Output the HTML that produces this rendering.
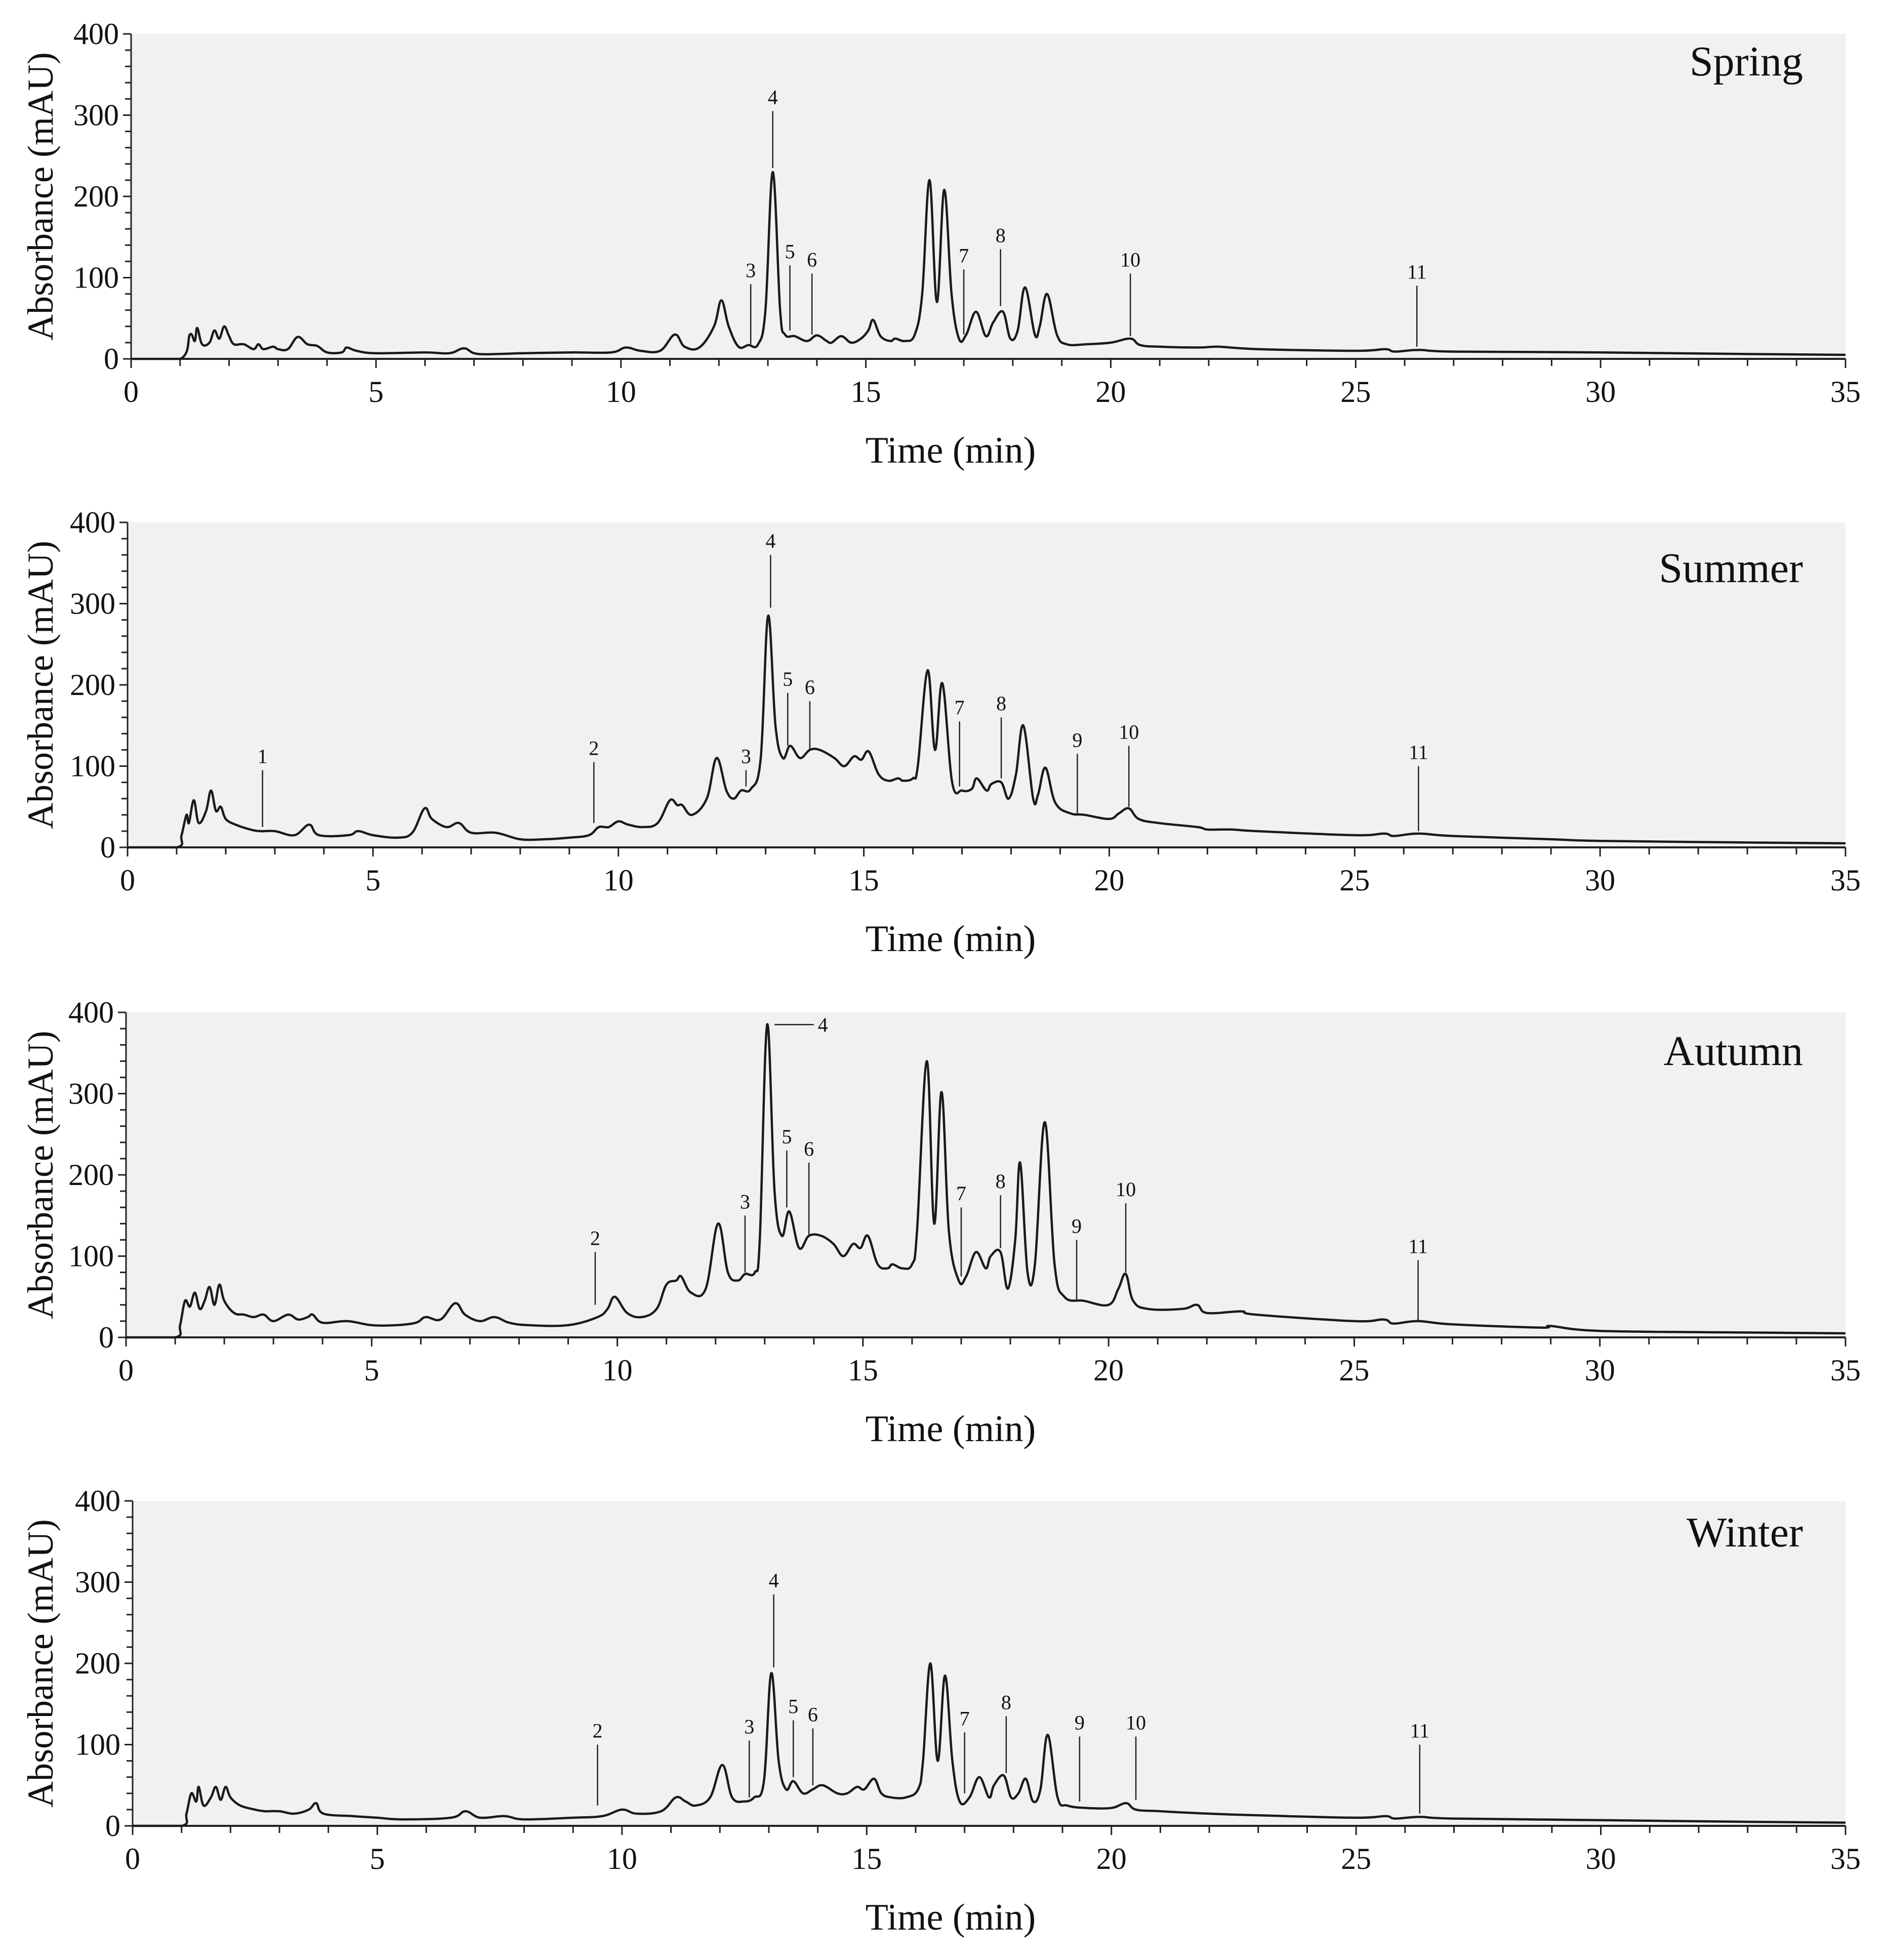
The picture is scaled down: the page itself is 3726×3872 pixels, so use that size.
<!DOCTYPE html>
<html><head><meta charset="utf-8"><style>
html,body{margin:0;padding:0;background:#fff}
svg{display:block}
text{font-family:"Liberation Serif",serif;fill:#111}
</style></head><body>
<svg id="chart" width="3726" height="3872" viewBox="0 0 3726 3872" xmlns="http://www.w3.org/2000/svg"></svg>
<script>
const seasons = ["Spring","Summer","Autumn","Winter"];
const xTicks = [0,5,10,15,20,25,30,35];
const yTicks = [0,100,200,300,400];
const springData = [[0,0],[1.0,0],[1.2,30],[1.3,22],[1.35,38],[1.45,18],[1.6,20],[1.7,35],[1.8,25],[1.9,40],[2.0,28],[2.1,18],[2.3,18],[2.5,12],[2.6,18],[2.7,12],[2.9,15],[3.0,12],[3.2,12],[3.4,27],[3.6,18],[3.8,16],[4.0,8],[4.3,8],[4.4,14],[4.6,10],[5,7],[6,8],[6.5,7],[6.8,13],[7.1,6],[8,7],[9,8],[9.8,8],[10.1,14],[10.4,10],[10.8,10],[11.1,30],[11.3,15],[11.6,14],[11.9,40],[12.05,72],[12.2,40],[12.4,15],[12.6,17],[12.8,18],[12.95,60],[13.1,230],[13.25,60],[13.35,30],[13.55,28],[13.8,22],[14.0,29],[14.2,22],[14.3,20],[14.5,28],[14.7,20],[14.9,25],[15.05,35],[15.15,48],[15.3,28],[15.5,22],[15.6,25],[15.8,22],[16.0,30],[16.15,80],[16.3,220],[16.45,70],[16.6,208],[16.75,80],[16.9,25],[17.05,30],[17.25,58],[17.45,28],[17.6,45],[17.8,58],[17.95,25],[18.1,35],[18.25,88],[18.45,30],[18.55,40],[18.7,80],[18.9,30],[19.1,18],[19.5,18],[20.0,20],[20.4,25],[20.6,17],[21,15],[21.8,14],[22.2,15],[23,12],[25,10],[25.6,12],[25.8,9],[26.3,11],[27,9],[30,8],[33,6],[35,5]];
const summerData = [[0,0],[1.0,0],[1.1,15],[1.2,40],[1.25,30],[1.35,58],[1.45,30],[1.6,45],[1.7,70],[1.8,45],[1.9,50],[2.0,35],[2.2,28],[2.5,22],[2.7,20],[3.0,20],[3.4,15],[3.7,28],[3.9,15],[4.5,15],[4.7,20],[5.0,15],[5.5,12],[5.8,18],[6.05,48],[6.2,35],[6.5,25],[6.75,30],[7.0,18],[7.5,18],[8.0,10],[8.5,10],[9.0,12],[9.4,15],[9.6,25],[9.8,25],[10.0,32],[10.2,28],[10.5,25],[10.8,30],[11.05,58],[11.2,52],[11.3,52],[11.5,40],[11.8,60],[12.0,110],[12.2,70],[12.35,60],[12.5,70],[12.7,72],[12.9,110],[13.05,285],[13.2,150],[13.35,110],[13.5,125],[13.7,110],[13.9,120],[14.1,120],[14.4,110],[14.6,100],[14.8,112],[14.95,108],[15.1,118],[15.3,90],[15.5,82],[15.7,85],[15.8,82],[16.0,85],[16.1,100],[16.3,218],[16.45,120],[16.6,202],[16.8,80],[17.0,70],[17.2,72],[17.3,85],[17.5,70],[17.6,78],[17.8,80],[17.95,60],[18.1,90],[18.25,150],[18.45,60],[18.55,65],[18.7,98],[18.9,55],[19.2,42],[19.5,40],[20.0,35],[20.2,42],[20.4,48],[20.6,35],[21,30],[21.8,25],[22,22],[22.5,22],[23,20],[25,15],[25.6,17],[25.8,14],[26.3,17],[27,14],[29,10],[30,8],[33,6],[35,5]];
const autumnData = [[0,0],[1.0,0],[1.1,15],[1.2,45],[1.3,38],[1.4,55],[1.5,35],[1.6,45],[1.7,62],[1.8,40],[1.9,65],[2.0,45],[2.2,30],[2.4,28],[2.6,25],[2.8,28],[3.0,20],[3.3,28],[3.5,22],[3.7,25],[3.8,28],[4.0,18],[4.5,20],[5,15],[5.5,15],[5.9,18],[6.1,25],[6.4,22],[6.7,42],[6.9,28],[7.2,20],[7.5,25],[7.8,18],[8.2,15],[9,15],[9.6,25],[9.8,35],[9.95,50],[10.2,30],[10.5,25],[10.8,35],[11.0,65],[11.2,70],[11.3,75],[11.5,55],[11.8,60],[12.05,140],[12.25,80],[12.45,70],[12.6,78],[12.8,80],[12.9,120],[13.05,385],[13.2,180],[13.35,125],[13.5,155],[13.7,110],[13.9,125],[14.15,125],[14.4,115],[14.6,100],[14.8,115],[14.95,110],[15.1,125],[15.3,90],[15.5,85],[15.6,90],[15.8,85],[16.0,90],[16.1,130],[16.3,340],[16.45,140],[16.6,302],[16.75,130],[16.95,70],[17.1,75],[17.3,105],[17.5,85],[17.6,100],[17.8,105],[17.95,60],[18.1,120],[18.2,215],[18.35,80],[18.5,90],[18.7,265],[18.9,90],[19.1,50],[19.5,45],[20.0,40],[20.2,60],[20.35,78],[20.5,45],[20.8,35],[21.5,35],[21.8,40],[22,30],[22.7,32],[23,28],[25,20],[25.6,22],[25.8,17],[26.3,20],[27,16],[28.8,12],[29,14],[30,8],[33,6],[35,5]];
const winterData = [[0,0],[1.0,0],[1.1,15],[1.2,40],[1.3,30],[1.35,48],[1.45,25],[1.6,35],[1.7,48],[1.8,32],[1.9,48],[2.0,35],[2.2,25],[2.5,20],[2.7,18],[3.0,18],[3.3,15],[3.6,20],[3.75,28],[3.9,15],[4.5,12],[5,10],[5.5,8],[6.5,10],[6.8,18],[7.1,10],[7.6,12],[8,8],[9,10],[9.6,12],[10.0,20],[10.3,15],[10.8,18],[11.1,35],[11.3,30],[11.5,25],[11.8,35],[12.05,75],[12.25,35],[12.5,30],[12.7,35],[12.9,55],[13.05,188],[13.2,80],[13.35,45],[13.5,55],[13.7,40],[13.9,45],[14.1,50],[14.4,40],[14.6,40],[14.8,48],[14.95,45],[15.15,58],[15.3,40],[15.5,35],[15.8,35],[16.05,45],[16.15,80],[16.3,200],[16.45,80],[16.6,185],[16.75,80],[16.9,30],[17.1,35],[17.3,60],[17.5,35],[17.6,50],[17.8,62],[17.95,35],[18.1,40],[18.25,58],[18.4,30],[18.55,45],[18.7,112],[18.9,35],[19.1,25],[19.5,22],[20.0,22],[20.3,28],[20.5,20],[21,18],[22,15],[23,13],[25,10],[25.6,12],[25.8,9],[26.3,11],[27,9],[30,7],[33,5],[35,4]];
// peak labels: [label, time, lineTop(mAU), lineBottom(mAU)]
const springPeaks = [["3",12.65,92,18],["4",13.1,305,235],["5",13.45,115,35],["6",13.9,105,30],["7",17.0,110,30],["8",17.75,135,65],["10",20.4,105,28],["11",26.25,90,15]];
const summerPeaks = [["1",2.75,95,25],["2",9.5,105,30],["3",12.6,95,75],["4",13.1,360,295],["5",13.45,190,125],["6",13.9,180,120],["7",16.95,155,75],["8",17.8,160,85],["9",19.35,115,42],["10",20.4,125,50],["11",26.3,100,20]];
const autumnPeaks = [["2",9.55,105,40],["3",12.6,150,80],["5",13.45,230,160],["6",13.9,215,125],["7",17.0,160,75],["8",17.8,175,110],["9",19.35,120,45],["10",20.35,165,80],["11",26.3,95,20]];
const winterPeaks = [["2",9.5,100,25],["3",12.6,105,35],["4",13.1,285,195],["5",13.5,130,60],["6",13.9,120,50],["7",17.0,115,40],["8",17.85,135,65],["9",19.35,110,30],["10",20.5,110,32],["11",26.3,100,15]];

const allData=[springData,summerData,autumnData,winterData];
const allPeaks=[springPeaks,summerPeaks,autumnPeaks,winterPeaks];
const x0s=[259,252,249,262], tops=[67,1032,2000,2965], x35=3646, ph=642, titleDy=[82,118,104,90];
const NS="http://www.w3.org/2000/svg";
const svg=document.getElementById('chart');
function mk(tag,attrs,parent){const e=document.createElementNS(NS,tag);for(const k in attrs)e.setAttribute(k,attrs[k]);(parent||svg).appendChild(e);return e;}
function smoothPath(pts,base){
  let d='M'+pts[0][0].toFixed(1)+','+pts[0][1].toFixed(1);
  for(let i=0;i<pts.length-1;i++){
    const p0=pts[Math.max(0,i-1)],p1=pts[i],p2=pts[i+1],p3=pts[Math.min(pts.length-1,i+2)];
    const k=0.18;
    const c1x=p1[0]+(p2[0]-p0[0])*k,c1y=Math.min(base,p1[1]+(p2[1]-p0[1])*k);
    const c2x=p2[0]-(p3[0]-p1[0])*k,c2y=Math.min(base,p2[1]-(p3[1]-p1[1])*k);
    d+=' C'+c1x.toFixed(1)+','+c1y.toFixed(1)+' '+c2x.toFixed(1)+','+c2y.toFixed(1)+' '+p2[0].toFixed(1)+','+p2[1].toFixed(1);
  }
  return d;
}
allData.forEach((data,i)=>{
  const g=mk('g',{});
  
  
  const L=x0s[i],T=tops[i],B=T+ph;
  const sx=t=>L+(x35-L)*t/35, sy=v=>B-ph*v/400;
  const bg=mk('rect',{x:L,y:T,width:x35-L,height:ph,fill:'#f1f1f0'},g);
  
  
  for(let v=0;v<=400;v+=20){mk('line',{x1:L-(v%100?12:16),x2:L,y1:sy(v),y2:sy(v),stroke:'#222','stroke-width':3},g);}
  yTicks.forEach(v=>{const t=mk('text',{x:L-24,y:sy(v)+20,'font-size':60,'text-anchor':'end'},g);t.textContent=v;
    
    });
  for(let m=0;m<=35;m++){mk('line',{x1:sx(m),x2:sx(m),y1:B,y2:B+(m%5?14:18),stroke:'#222','stroke-width':3},g);}
  xTicks.forEach(v=>{const t=mk('text',{x:sx(v),y:B+85,'font-size':60,'text-anchor':'middle'},g);t.textContent=v;
    
    });
  mk('line',{x1:L,x2:L,y1:T,y2:B,stroke:'#222','stroke-width':3},g);
  mk('line',{x1:L,x2:x35,y1:B,y2:B,stroke:'#222','stroke-width':4},g);
  const pts=data.map(d=>[sx(d[0]),sy(d[1])]);
  const p=mk('path',{d:smoothPath(pts,B),fill:'none',stroke:'#1a1a1a','stroke-width':4.5,'stroke-linejoin':'round'},g);
  
  
  allPeaks[i].forEach(pk=>{
    mk('line',{x1:sx(pk[1]),x2:sx(pk[1]),y1:sy(pk[2]),y2:sy(pk[3]),stroke:'#222','stroke-width':2.5},g);
    const t=mk('text',{x:sx(pk[1]),y:sy(pk[2])-14,'font-size':40,'text-anchor':'middle'},g);t.textContent=pk[0];
    
    
  });
  if(i===2){
    mk('line',{x1:sx(13.2),x2:sx(14.0),y1:sy(385),y2:sy(385),stroke:'#222','stroke-width':2.5},g);
    const t=mk('text',{x:sx(14.08),y:sy(385)+14,'font-size':40},g);t.textContent='4';
    
    
  }
  const st=mk('text',{x:3562,y:T+titleDy[i],'font-size':84,'text-anchor':'end'},g);st.textContent=seasons[i];
  
  
  const xt=mk('text',{x:1878,y:B+205,'font-size':74,'text-anchor':'middle'},g);xt.textContent='Time (min)';
  
  
  const yt=mk('text',{x:0,y:0,'font-size':72,'text-anchor':'middle',transform:'translate(104,'+(T+ph/2)+') rotate(-90)'},g);yt.textContent='Absorbance (mAU)';
  
  
});
</script>
</body></html>
